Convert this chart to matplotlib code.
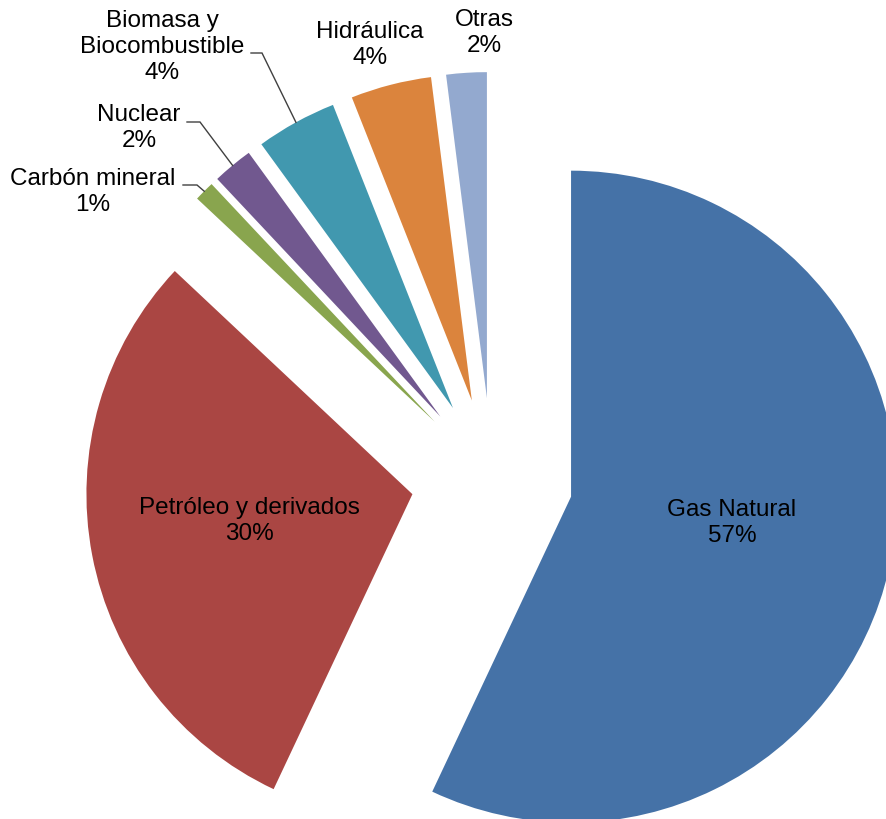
import numpy as np
import matplotlib.pyplot as plt

plt.rcParams['font.family'] = ['Liberation Sans', 'DejaVu Sans']

# Energy mix shares (%)
fuentes = ['Gas Natural', 'Petróleo y derivados', 'Carbón mineral', 'Nuclear',
           'Biomasa y\nBiocombustible', 'Hidráulica', 'Otras']
valores = [57, 30, 1, 2, 4, 4, 2]
colores = ['#4572A7', '#AA4643', '#89A54E', '#71588F', '#4198AF', '#DB843D', '#93A9CF']

W, H = 887, 820
fig = plt.figure(figsize=(W / 100, H / 100), dpi=100)
ax = fig.add_axes([0, 0, 1, 1])

R = 326
cx, cy = 492, H - 480
# explode is given in data units here (pixels)
wedges, _ = ax.pie(valores, explode=[81] * len(valores), colors=colores,
                   startangle=90, counterclock=False, radius=R, center=(cx, cy),
                   wedgeprops=dict(linewidth=0))

# label block centres (x, y from top) and leader-line start/elbow points
pos = [(732, 523), (249, 521), (93, 192), (139, 128), (162, 47), (370, 45), (484, 33)]
guias = {2: ((183, 186), (197, 186)),
         3: ((187, 123), (200, 123)),
         4: ((251, 54), (262, 54))}

for i, (w, v) in enumerate(zip(wedges, valores)):
    x, y = pos[i]
    ax.text(x, H - y, f'{fuentes[i]}\n{v}%', ha='center', va='center',
            fontsize=17.5, color='#000000', linespacing=1.25)
    if i in guias:
        ang = np.deg2rad((w.theta1 + w.theta2) / 2)
        px = w.center[0] + R * np.cos(ang)
        py = w.center[1] + R * np.sin(ang)
        (x0, y0), (x1, y1) = guias[i]
        ax.plot([x0, x1, px], [H - y0, H - y1, py], color='#404040', lw=1.0,
                solid_joinstyle='miter')

ax.set_xlim(0, W)
ax.set_ylim(0, H)
ax.set_aspect('equal')
ax.axis('off')

fig.savefig('out.png', dpi=100, facecolor='white')
